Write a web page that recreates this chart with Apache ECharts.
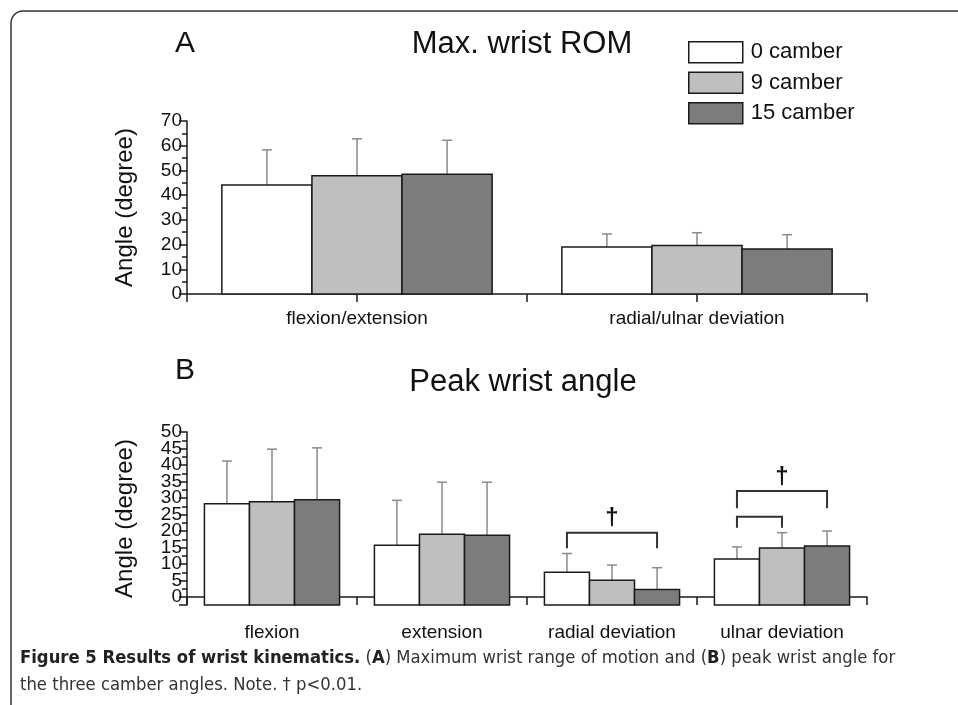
<!DOCTYPE html>
<html>
<head>
<meta charset="utf-8">
<script src="https://cdn.jsdelivr.net/npm/echarts@6/dist/echarts.min.js"></script>
<style>
  html, body { margin: 0; padding: 0; background: #fff; }
  #main { width: 958px; height: 705px; }
</style>
</head>
<body>
<div id="main"></div>
<script>
const camberNames = ['0 camber', '9 camber', '15 camber'];

// A: max wrist ROM (mean and SD per camber, per category)
const romCategories = ['flexion/extension', 'radial/ulnar deviation'];
const romMean = [[44.1, 19.0], [47.8, 19.6], [48.5, 18.2]];
const romSD = [[14.2, 5.3], [15.0, 5.2], [13.7, 5.8]];
const romRange = [0, 70, 10];

// B: peak wrist angle
const peakCategories = ['flexion', 'extension', 'radial deviation', 'ulnar deviation'];
const peakMean = [
  [28.3, 15.7, 7.5, 11.5],
  [28.9, 19.0, 5.1, 14.9],
  [29.5, 18.7, 2.3, 15.5]
];
const peakSD = [
  [12.9, 13.6, 5.7, 3.7],
  [15.9, 15.8, 4.6, 4.6],
  [15.7, 16.1, 6.6, 4.5]
];
const peakRange = [-2.4, 50];
// labels packed tightly in the original, so split into two rows of values
const peakTicksEven = [0, 10, 20, 30, 40, 50];
const peakTicksOdd = [5, 15, 25, 35, 45];
// significance brackets: category, from bar, to bar, top value, leg end value, dagger
const peakBrackets = [
  [2, 0, 2, 19.5, 14.8, true],
  [3, 0, 2, 32.1, 26.9, true],
  [3, 0, 1, 24.3, 21.0, false]
];

const FONT = '"Liberation Sans", Arial, sans-serif';
const CAPTION_FONT = '"DejaVu Sans Condensed", "Liberation Sans Narrow", sans-serif';
const fills = ['#ffffff', '#bfbfbf', '#7c7c7c'];
const INK = '#1a1a1a';
const GROUP = 0.795;

const chart = echarts.init(document.getElementById('main'));

function barSeries(s, gridIdx, cats, mean, sd, base) {
  return {
    name: camberNames[s],
    type: 'custom',
    xAxisIndex: gridIdx * 2,
    yAxisIndex: gridIdx,
    itemStyle: { color: fills[s], borderColor: INK, borderWidth: 1.5 },
    encode: { x: 0, y: 1 },
    data: cats.map((c, i) => [i, mean[s][i], sd[s][i]]),
    renderItem(params, api) {
      const idx = api.value(0);
      const bw = api.size([1, 0])[0] * GROUP / 3;
      const top = api.coord([idx, api.value(1)]);
      const bottom = api.coord([idx, base]);
      const err = api.coord([idx, api.value(1) + api.value(2)]);
      const cx = top[0] + (s - 1) * bw;
      const errStyle = { stroke: '#8a8a8a', lineWidth: 1.5 };
      return {
        type: 'group',
        children: [
          { type: 'line', shape: { x1: cx, y1: top[1], x2: cx, y2: err[1] }, style: errStyle },
          { type: 'line', shape: { x1: cx - 5, y1: err[1], x2: cx + 5, y2: err[1] }, style: errStyle },
          {
            type: 'rect',
            shape: { x: cx - bw / 2, y: top[1], width: bw, height: bottom[1] - top[1] },
            style: { fill: fills[s], stroke: INK, lineWidth: 1.5 }
          }
        ]
      };
    }
  };
}

const bracketSeries = {
  type: 'custom',
  xAxisIndex: 2,
  yAxisIndex: 1,
  encode: { x: 0, y: 3 },
  data: peakBrackets,
  renderItem(params, api) {
    const idx = api.value(0);
    const bw = api.size([1, 0])[0] * GROUP / 3;
    const top = api.coord([idx, api.value(3)]);
    const leg = api.coord([idx, api.value(4)]);
    const x1 = top[0] + (api.value(1) - 1) * bw;
    const x2 = top[0] + (api.value(2) - 1) * bw;
    const children = [{
      type: 'polyline',
      shape: { points: [[x1, leg[1]], [x1, top[1]], [x2, top[1]], [x2, leg[1]]] },
      style: { stroke: '#333', lineWidth: 2, fill: null }
    }];
    if (peakBrackets[params.dataIndex][5]) {
      children.push({
        type: 'text',
        x: (x1 + x2) / 2, y: top[1] - 2,
        style: { text: '\u2020', fontSize: 24, fontFamily: FONT, fontWeight: 'bold', fill: '#111', align: 'center', verticalAlign: 'bottom' }
      });
    }
    return { type: 'group', children };
  }
};

const axisLine = { show: true, lineStyle: { color: INK, width: 1.5 } };
const tickStyle = { color: INK, width: 1.5 };
const labelStyle = { fontSize: 19, fontFamily: FONT, color: '#111', margin: 5 };

function catAxes(gridIdx, cats, margin) {
  return [
    {
      gridIndex: gridIdx, type: 'category', data: cats, position: 'bottom',
      axisLine, axisTick: { show: true, length: 8, lineStyle: tickStyle },
      axisLabel: Object.assign({}, labelStyle, { margin })
    },
    {
      gridIndex: gridIdx, type: 'category', data: cats, position: 'bottom',
      axisLine: { show: false },
      axisTick: { show: true, alignWithLabel: true, length: 8, lineStyle: tickStyle },
      axisLabel: { show: false }
    }
  ];
}

function valAxis(gridIdx, extra) {
  return Object.assign({
    gridIndex: gridIdx, type: 'value', position: 'left',
    name: 'Angle (degree)', nameLocation: 'middle', nameRotate: 90, nameGap: 50,
    nameTextStyle: { fontSize: 24, fontFamily: FONT, color: '#111' },
    axisLine,
    axisTick: { show: true, length: 8, lineStyle: tickStyle },
    minorTick: { show: true, splitNumber: 2, length: 5, lineStyle: tickStyle },
    axisLabel: labelStyle,
    splitLine: { show: false }
  }, extra);
}

const textEl = (x, y, text, size, extra) => ({
  type: 'text', x, y,
  style: Object.assign({ text, fontSize: size, fontFamily: FONT, fill: '#111', align: 'center', verticalAlign: 'middle' }, extra)
});

chart.setOption({
  backgroundColor: '#fff',
  animation: false,
  grid: [
    { left: 187, right: 91, top: 121, height: 173 },
    { left: 187, right: 91, top: 432, height: 173 }
  ],
  xAxis: [...catAxes(0, romCategories, 15), ...catAxes(1, peakCategories, 18)],
  yAxis: [
    valAxis(0, { min: romRange[0], max: romRange[1], interval: romRange[2] }),
    valAxis(1, {
      min: peakRange[0], max: peakRange[1], splitNumber: 10,
      axisLabel: Object.assign({}, labelStyle, { customValues: peakTicksEven })
    }),
    valAxis(1, {
      min: peakRange[0], max: peakRange[1], splitNumber: 10, name: '',
      axisLine: { show: false }, axisTick: { show: false }, minorTick: { show: false },
      axisLabel: Object.assign({}, labelStyle, { customValues: peakTicksOdd })
    })
  ],
  legend: {
    orient: 'vertical', left: 683, top: 36,
    itemWidth: 54, itemHeight: 21, itemGap: 8, icon: 'rect',
    selectedMode: false,
    itemStyle: { borderColor: INK, borderWidth: 1.5 },
    textStyle: { fontSize: 22, lineHeight: 21, fontFamily: FONT, color: '#111', padding: [0, 0, 0, 3] },
    data: camberNames
  },
  graphic: [
    {
      type: 'rect', silent: true,
      shape: { x: 11, y: 11, width: 1000, height: 1000, r: [12, 0, 0, 0] },
      style: { fill: 'none', stroke: '#333', lineWidth: 1.5 }
    },
    textEl(185, 44, 'A', 30),
    textEl(522, 44, 'Max. wrist ROM', 31),
    textEl(185, 371, 'B', 30),
    textEl(523, 382, 'Peak wrist angle', 31),
    {
      type: 'text', x: 20, y: 658,
      style: {
        text: '{b|Figure 5 Results of wrist kinematics.} ({b|A}) Maximum wrist range of motion and ({b|B}) peak wrist angle for',
        fontSize: 18.3, fontFamily: CAPTION_FONT, fill: '#333', verticalAlign: 'middle',
        rich: { b: { fontWeight: 'bold', fontSize: 18.3, fontFamily: CAPTION_FONT, fill: '#222' } }
      }
    },
    {
      type: 'text', x: 20, y: 685,
      style: { text: 'the three camber angles. Note. \u2020 p<0.01.', fontSize: 18.3, fontFamily: CAPTION_FONT, fill: '#333', verticalAlign: 'middle' }
    }
  ],
  series: [
    ...[0, 1, 2].map(s => barSeries(s, 0, romCategories, romMean, romSD, romRange[0])),
    ...[0, 1, 2].map(s => barSeries(s, 1, peakCategories, peakMean, peakSD, peakRange[0])),
    bracketSeries
  ]
});
</script>
</body>
</html>
